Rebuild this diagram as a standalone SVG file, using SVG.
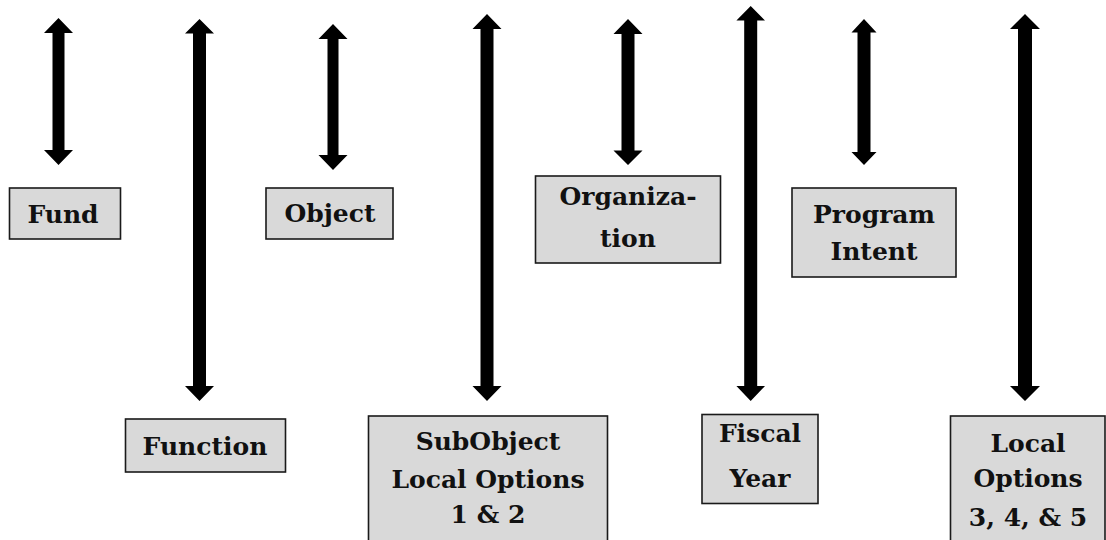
<svg xmlns="http://www.w3.org/2000/svg" width="1106" height="540" viewBox="0 0 1106 540">
<style>
.box{fill:#d9d9d9;stroke:#1a1a1a;stroke-width:1.6}
.lbl{font-family:"DejaVu Serif","Liberation Serif",serif;font-weight:bold;font-size:25px;fill:#111;text-anchor:middle}
.arr{fill:#000}
</style>
<rect width="1106" height="540" fill="#fff"/>
<g id="connectors">
<polygon class="arr" points="58.5,18 73,33 64.5,33 64.5,150 73,150 58.5,165 44,150 52.5,150 52.5,33 44,33"/>
<polygon class="arr" points="199.5,19 214,33.5 206,33.5 206,386 214,386 199.5,401 185,386 193,386 193,33.5 185,33.5"/>
<polygon class="arr" points="333,24 347.5,39 338.5,39 338.5,155 347.5,155 333,170 318.5,155 327.5,155 327.5,39 318.5,39"/>
<polygon class="arr" points="487,14 501.5,29 493.5,29 493.5,386 501.5,386 487,401 472.5,386 480.5,386 480.5,29 472.5,29"/>
<polygon class="arr" points="628,19 642.5,34 634.5,34 634.5,150.5 642.5,150.5 628,165 613.5,150.5 621.5,150.5 621.5,34 613.5,34"/>
<polygon class="arr" points="750.7,6 765,20.5 757.2,20.5 757.2,386 765,386 750.7,401 736.4,386 744.2,386 744.2,20.5 736.4,20.5"/>
<polygon class="arr" points="864,19 876.5,32.5 870.5,32.5 870.5,152 876.5,152 864,165 851.5,152 857.5,152 857.5,32.5 851.5,32.5"/>
<polygon class="arr" points="1025,14 1040,29 1032,29 1032,386 1040,386 1025,401 1010,386 1018,386 1018,29 1010,29"/>
</g>
<g id="fund"><rect class="box" x="9.5" y="188" width="111" height="51"/><text class="lbl" x="63" y="222.5">Fund</text></g>
<g id="object"><rect class="box" x="266" y="188" width="127" height="51"/><text class="lbl" x="330" y="221.5">Object</text></g>
<g id="organization"><rect class="box" x="535.5" y="176" width="185" height="87"/><text class="lbl" x="628" y="205">Organiza-</text><text class="lbl" x="628" y="247">tion</text></g>
<g id="program-intent"><rect class="box" x="792" y="188" width="164" height="89"/><text class="lbl" x="874" y="223">Program</text><text class="lbl" x="874" y="260">Intent</text></g>
<g id="function"><rect class="box" x="125.5" y="419" width="160" height="53"/><text class="lbl" x="205" y="455">Function</text></g>
<g id="subobject"><rect class="box" x="368.5" y="416" width="239" height="130"/><text class="lbl" x="488" y="450">SubObject</text><text class="lbl" x="488" y="487.5">Local Options</text><text class="lbl" x="488" y="523">1 &amp; 2</text></g>
<g id="fiscal-year"><rect class="box" x="702" y="414.5" width="116" height="89"/><text class="lbl" x="760" y="441.5">Fiscal</text><text class="lbl" x="760" y="486.5">Year</text></g>
<g id="local-options"><rect class="box" x="950.5" y="416" width="154.5" height="130"/><text class="lbl" x="1028" y="451.5">Local</text><text class="lbl" x="1028" y="486.5">Options</text><text class="lbl" x="1028" y="526">3, 4, &amp; 5</text></g>
</svg>
